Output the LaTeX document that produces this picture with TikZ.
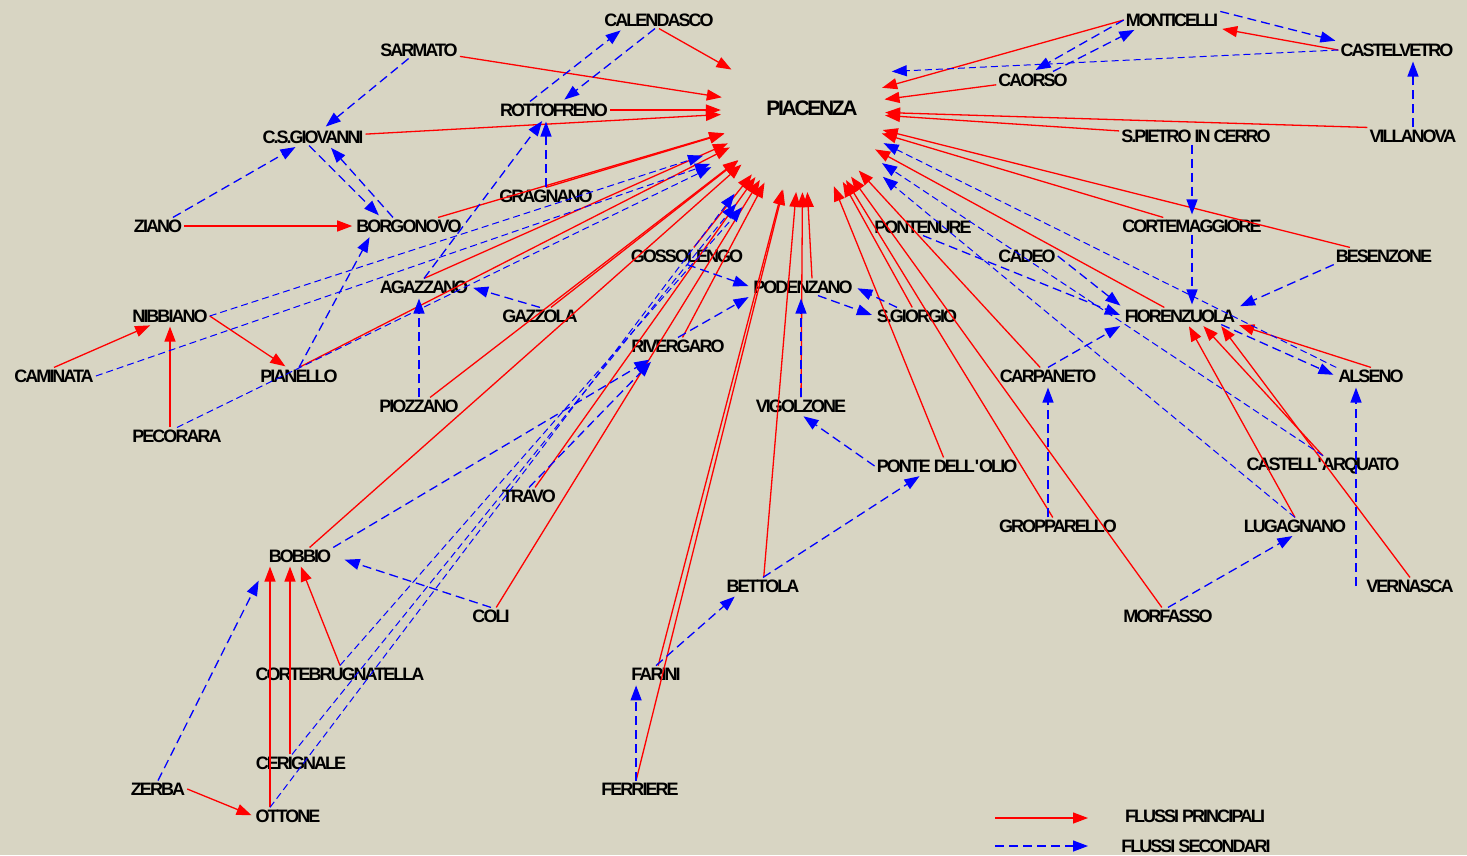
\documentclass[tikz,border=0pt]{standalone}
\usepackage{fontspec}
\setmainfont{Liberation Sans}[LetterSpace=-11]
\usepackage{tikz}
\usetikzlibrary{arrows.meta}
\definecolor{fondo}{RGB}{216,213,195}
\definecolor{rosso}{RGB}{255,0,0}
\definecolor{blu}{RGB}{0,0,255}

\begin{document}
\begin{tikzpicture}[x=1pt,y=-1pt,
    comune/.style={font=\fontsize{18}{18}\selectfont\bfseries,inner sep=2pt},
    principale/.style={every edge/.style={draw,color=rosso,line width=1.3pt,-{Triangle[length=15pt,width=11pt]},shorten >=2pt}},
    secondario/.style={every edge/.style={draw,color=blu,line width=1.3pt,dash pattern=on 9pt off 5pt,-{Triangle[length=15pt,width=11pt]},shorten >=3pt}},
    lungo/.style={every edge/.append style={line width=1pt,dash pattern=on 7pt off 4pt}}]
  \fill[fondo] (0,0) rectangle (1467,855);
  \useasboundingbox (0,0) rectangle (1467,855);

  % capoluogo
  \node[circle,minimum size=160pt,inner sep=0pt] (piacenza) at (803,110) {};
  \node[font=\fontsize{21}{21}\selectfont\bfseries,inner sep=2pt] (piacenzanome) at (812,108) {PIACENZA};

  % comuni
  \node[comune] (calendasco)     at (659,20)  {CALENDASCO};
  \node[comune] (sarmato)        at (419,50)  {SARMATO};
  \node[comune] (rottofreno)     at (554,110) {ROTTOFRENO};
  \node[comune] (csgiovanni)     at (313,137) {C.S.GIOVANNI};
  \node[comune] (gragnano)       at (546,196) {GRAGNANO};
  \node[comune] (ziano)          at (158,226) {ZIANO};
  \node[comune] (borgonovo)      at (409,226) {BORGONOVO};
  \node[comune] (gossolengo)     at (687,256) {GOSSOLENGO};
  \node[comune] (agazzano)       at (424,287) {AGAZZANO};
  \node[comune] (podenzano)      at (803,287) {PODENZANO};
  \node[comune] (gazzola)        at (540,316) {GAZZOLA};
  \node[comune] (nibbiano)       at (170,316) {NIBBIANO};
  \node[comune] (sgiorgio)       at (917,316) {S.GIORGIO};
  \node[comune] (rivergaro)      at (678,346) {RIVERGARO};
  \node[comune] (caminata)       at (54,376)  {CAMINATA};
  \node[comune] (pianello)       at (299,376) {PIANELLO};
  \node[comune] (piozzano)       at (419,406) {PIOZZANO};
  \node[comune] (pecorara)       at (177,436) {PECORARA};
  \node[comune] (vigolzone)      at (801,406) {VIGOLZONE};
  \node[comune] (pontedellolio)  at (947,466) {PONTE DELL\textquotesingle OLIO};
  \node[comune] (travo)          at (529,496) {TRAVO};
  \node[comune] (bobbio)         at (300,556) {BOBBIO};
  \node[comune] (coli)           at (491,616) {COLI};
  \node[comune] (bettola)        at (763,586) {BETTOLA};
  \node[comune] (cortebrugnatella) at (340,674) {CORTEBRUGNATELLA};
  \node[comune] (farini)         at (656,674) {FARINI};
  \node[comune] (cerignale)      at (301,763) {CERIGNALE};
  \node[comune] (zerba)          at (158,789) {ZERBA};
  \node[comune] (ottone)         at (288,816) {OTTONE};
  \node[comune] (ferriere)       at (640,789) {FERRIERE};
  \node[comune] (monticelli)     at (1172,20) {MONTICELLI};
  \node[comune] (castelvetro)    at (1397,50) {CASTELVETRO};
  \node[comune] (caorso)         at (1033,80) {CAORSO};
  \node[comune] (spietro)        at (1196,136) {S.PIETRO IN CERRO};
  \node[comune] (villanova)      at (1413,136) {VILLANOVA};
  \node[comune] (pontenure)      at (923,227) {PONTENURE};
  \node[comune] (cortemaggiore)  at (1192,226) {CORTEMAGGIORE};
  \node[comune] (cadeo)          at (1027,256) {CADEO};
  \node[comune] (besenzone)      at (1384,256) {BESENZONE};
  \node[comune] (fiorenzuola)    at (1180,316) {FIORENZUOLA};
  \node[comune] (carpaneto)      at (1048,376) {CARPANETO};
  \node[comune] (alseno)         at (1371,376) {ALSENO};
  \node[comune] (castellarquato) at (1323,466) {CASTELL\textquotesingle ARQUATO};
  \node[comune] (gropparello)    at (1058,526) {GROPPARELLO};
  \node[comune] (lugagnano)      at (1295,526) {LUGAGNANO};
  \node[comune] (vernasca)       at (1410,586) {VERNASCA};
  \node[comune] (morfasso)       at (1168,616) {MORFASSO};
  \coordinate (vb) at ([xshift=-15pt]alseno.south);

  % flussi principali verso Piacenza
  \path[principale]
    (calendasco.south) edge (piacenza)
    (sarmato) edge (piacenza)
    (rottofreno) edge (piacenza)
    (csgiovanni) edge (piacenza)
    (borgonovo) edge (piacenza)
    (gragnano.north) edge (piacenza)
    (agazzano.north) edge (piacenza)
    (pianello.north) edge (piacenza)
    (gazzola) edge (piacenza)
    (piozzano) edge (piacenza)
    (bobbio) edge (piacenza)
    (gossolengo) edge (piacenza)
    (rivergaro) edge (piacenza)
    (travo) edge (piacenza)
    (coli) edge (piacenza)
    (farini) edge (piacenza)
    (ferriere.115) edge (piacenza)
    (bettola) edge (piacenza)
    (vigolzone) edge (piacenza)
    ([xshift=9pt]podenzano.north) edge (piacenza)
    (sgiorgio) edge (piacenza)
    (pontedellolio) edge (piacenza)
    (gropparello) edge (piacenza)
    (morfasso) edge (piacenza)
    (carpaneto) edge (piacenza)
    (fiorenzuola) edge (piacenza)
    (cortemaggiore) edge (piacenza)
    (besenzone) edge (piacenza)
    (spietro) edge (piacenza)
    (villanova.north west) edge (piacenza)
    (caorso) edge (piacenza)
    (monticelli.west) edge (piacenza);

  % altri flussi principali
  \path[principale]
    (ziano) edge (borgonovo)
    (caminata.north) edge ([xshift=-18pt]nibbiano.south)
    (nibbiano.south |- pecorara.north) edge (nibbiano.south)
    (nibbiano.east) edge ([xshift=-12pt]pianello.north)
    (zerba.east) edge (ottone.west)
    ([xshift=-18pt]ottone.north) edge ([xshift=-30pt]bobbio.south)
    ([xshift=-11pt]cerignale.north) edge ([xshift=-10pt]bobbio.south)
    (cortebrugnatella.north) edge (bobbio.south)
    (castelvetro.west) edge (monticelli.south east)
    (alseno.north) edge (fiorenzuola.south east)
    (lugagnano.north) edge ([xshift=8pt]fiorenzuola.south)
    (castellarquato.north) edge ([xshift=22pt]fiorenzuola.south)
    (vernasca.north) edge ([xshift=40pt]fiorenzuola.south);

  % flussi secondari
  \path[secondario]
    (sarmato) edge (csgiovanni)
    (ziano) edge (csgiovanni)
    ([xshift=-4pt]csgiovanni.south) edge ([xshift=-28pt]borgonovo.north)
    ([xshift=-16pt]borgonovo.north) edge ([xshift=16pt]csgiovanni.south)
    ([xshift=-4pt]calendasco.south) edge ([xshift=8pt]rottofreno.north)
    ([xshift=-24pt]rottofreno.north) edge ([xshift=-36pt]calendasco.south)
    (gragnano.north) edge (gragnano.north |- rottofreno.south)
    (agazzano.north) edge ([xshift=-10pt]rottofreno.south)
    (pianello.north) edge ([xshift=-38pt]borgonovo.south)
    (piozzano.north) edge (piozzano.north |- agazzano.south)
    (gazzola.north) edge (agazzano.east)
    (gossolengo.south) edge (podenzano.west)
    (rivergaro.north) edge (podenzano.south west)
    (vigolzone.north) edge (vigolzone.north |- podenzano.south)
    ([xshift=15pt]podenzano.south) edge (sgiorgio.west)
    ([xshift=-20pt]sgiorgio.north) edge (podenzano.east)
    (pontedellolio.west) edge (vigolzone.south)
    (bettola.north) edge ([xshift=-25pt]pontedellolio.south)
    (farini.north) edge ([xshift=-26pt]bettola.south)
    (ferriere.115) edge (ferriere.115 |- farini.south)
    (coli.north) edge[shorten >=12pt] (bobbio.east)
    (zerba.north) edge[shorten >=18pt] (bobbio.south west)
    (bobbio.north east) edge[shorten >=10pt] ([xshift=-20pt]rivergaro.south)
    (travo.north) edge[shorten >=10pt] ([xshift=-20pt]rivergaro.south)
    (monticelli.north east) edge (castelvetro.north west)
    (monticelli.west) edge (caorso.north)
    ([xshift=20pt]caorso.north) edge ([xshift=-35pt]monticelli.south)
    (villanova.north) edge (villanova.north |- castelvetro.south)
    (cortemaggiore.north |- spietro.south) edge (cortemaggiore.north)
    (cortemaggiore.south) edge (cortemaggiore.south |- fiorenzuola.north)
    (besenzone.south west) edge (fiorenzuola.north east)
    (cadeo.east) edge (fiorenzuola.north west)
    (pontenure.south) edge (fiorenzuola.west)
    (carpaneto.north) edge (fiorenzuola.south west)
    ([xshift=-16pt]fiorenzuola.south east) edge (alseno.west)
    (carpaneto.south |- gropparello.north) edge (carpaneto.south)
    (morfasso.north) edge (lugagnano.south)
    (vb |- vernasca.center) edge (vb);

  % flussi secondari verso Piacenza
  \path[secondario,lungo]
    (castelvetro.west) edge[shorten >=18pt] (piacenza.28)
    (nibbiano.east) edge[shorten >=30pt] (piacenza.207)
    (caminata.east) edge[shorten >=28pt] (piacenza.214)
    (pecorara.north) edge[shorten >=28pt] (piacenza.214)
    ([xshift=-18pt]ottone.north) edge[shorten >=28pt] (piacenza.230)
    ([xshift=-9pt]cerignale.north) edge[shorten >=35pt] (piacenza.236)
    (cortebrugnatella.north) edge[shorten >=35pt] (piacenza.242)
    (alseno.north west) edge[shorten >=7pt] (piacenza.338)
    (castellarquato.north) edge[shorten >=15pt] (piacenza.326)
    (lugagnano.north) edge[shorten >=24pt] (piacenza.320);

  % legenda
  \coordinate (lp0) at (995,818);
  \coordinate (lp1) at (1088,818);
  \coordinate (ls0) at (995,846);
  \coordinate (ls1) at (1088,846);
  \path[principale] (lp0) edge[shorten >=0pt] (lp1);
  \path[secondario] (ls0) edge[shorten >=0pt] (ls1);
  \node[comune] (legprinc) at (1195,816) {FLUSSI PRINCIPALI};
  \node[comune] (legsec)   at (1196,846) {FLUSSI SECONDARI};
\end{tikzpicture}
\end{document}
